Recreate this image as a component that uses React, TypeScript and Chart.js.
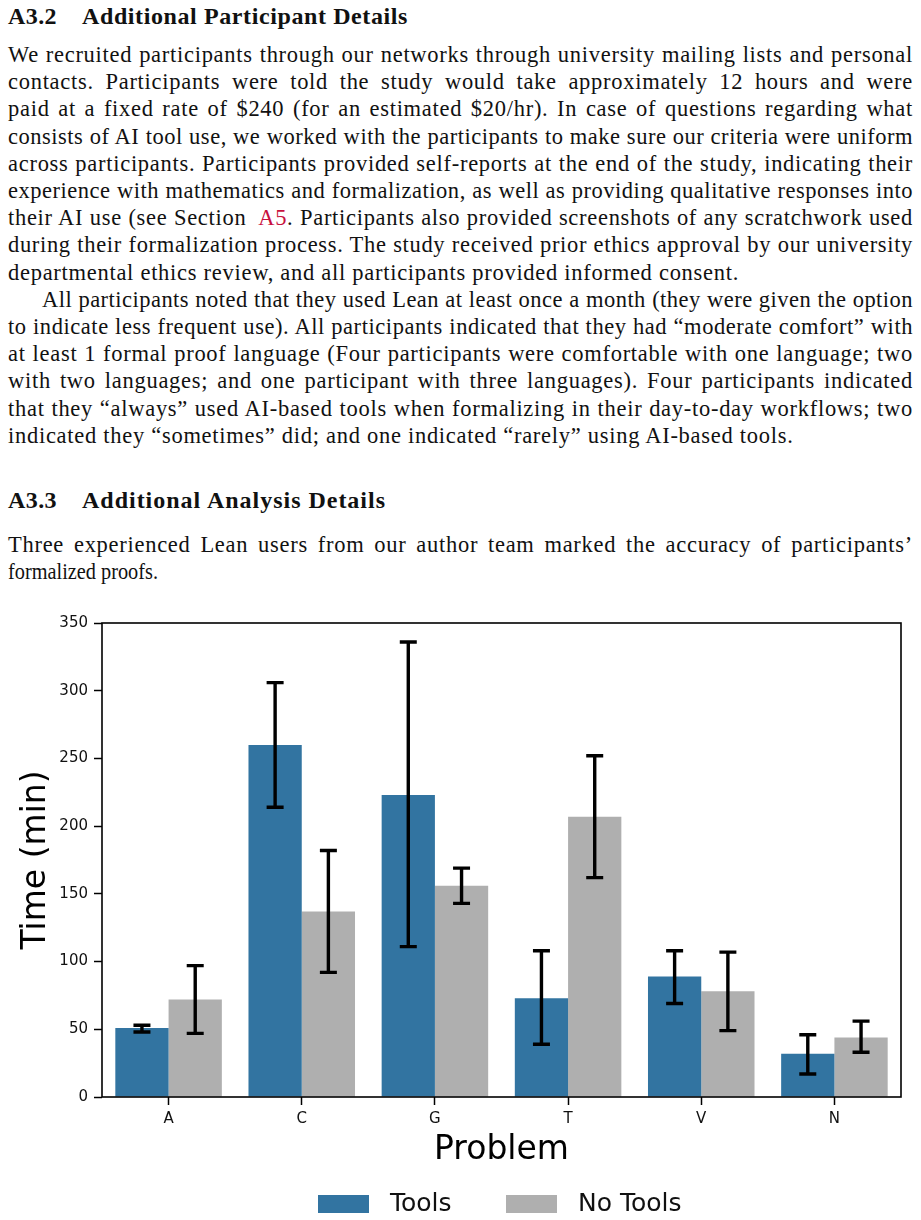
import React, { useEffect, useLayoutEffect, useRef } from "react";
import { Chart, registerables } from "chart.js";

Chart.register(...registerables);

// ---------------- data ----------------
const categories = ["A", "C", "G", "T", "V", "N"];
const seriesLabels = ["Tools", "No Tools"];
const toolsMean = [51, 260, 223, 73, 89, 32];
const toolsLow = [48, 214, 111, 39, 69, 17];
const toolsHigh = [53, 306, 336, 108, 108, 46];
const noToolsMean = [72, 137, 156, 207, 78, 44];
const noToolsLow = [47, 92, 143, 162, 49, 33];
const noToolsHigh = [97, 182, 169, 252, 107, 56];
const yTickValues = [0, 50, 100, 150, 200, 250, 300, 350];
const xTitle = "Problem";
const yTitle = "Time (min)";

const BLUE = "#3274a1";
const GRAY = "#afafaf";
const SANS = "'DejaVu Sans', sans-serif";
const SERIF = "'Liberation Serif', 'Times New Roman', serif";

const errorBarPlugin = {
  id: "errorBars",
  afterDatasetsDraw(chart: any) {
    const { ctx } = chart;
    const y = chart.scales.y;
    const ranges = [
      [toolsLow, toolsHigh],
      [noToolsLow, noToolsHigh],
    ];
    ctx.save();
    ctx.strokeStyle = "#000";
    ctx.lineWidth = 3.4;
    ctx.lineCap = "butt";
    chart.data.datasets.forEach((_ds: any, di: number) => {
      const meta = chart.getDatasetMeta(di);
      meta.data.forEach((bar: any, i: number) => {
        const x = bar.x;
        const yl = y.getPixelForValue(ranges[di][0][i]);
        const yh = y.getPixelForValue(ranges[di][1][i]);
        const hw = 8.5;
        ctx.beginPath();
        ctx.moveTo(x, yl);
        ctx.lineTo(x, yh);
        ctx.moveTo(x - hw, yl);
        ctx.lineTo(x + hw, yl);
        ctx.moveTo(x - hw, yh);
        ctx.lineTo(x + hw, yh);
        ctx.stroke();
      });
    });
    ctx.restore();
  },
};

const framePlugin = {
  id: "frame",
  afterDatasetsDraw(chart: any) {
    const { ctx, chartArea } = chart;
    ctx.save();
    ctx.strokeStyle = "#000";
    ctx.lineWidth = 1.6;
    ctx.strokeRect(
      chartArea.left,
      chartArea.top,
      chartArea.right - chartArea.left,
      chartArea.bottom - chartArea.top
    );
    ctx.restore();
  },
};

const legendPlugin = {
  id: "bottomLegend",
  afterDraw(chart: any) {
    const { ctx } = chart;
    const items = [
      { box: 318, text: 390 },
      { box: 506, text: 578 },
    ];
    const top = 595;
    ctx.save();
    ctx.font = `25px ${SANS}`;
    ctx.textBaseline = "middle";
    chart.data.datasets.forEach((ds: any, i: number) => {
      const it = items[i];
      ctx.fillStyle = ds.backgroundColor;
      ctx.fillRect(it.box, top, 51, 18);
      ctx.fillStyle = "#111";
      ctx.fillText(ds.label, it.text, top + 9);
    });
    ctx.restore();
  },
};

function BarChart() {
  const ref = useRef<HTMLCanvasElement | null>(null);
  useEffect(() => {
    if (!ref.current) return;
    const chart = new Chart(ref.current, {
      type: "bar",
      data: {
        labels: categories,
        datasets: [
          {
            label: seriesLabels[0],
            data: toolsMean,
            backgroundColor: BLUE,
            borderWidth: 0,
            categoryPercentage: 0.8,
            barPercentage: 1.0,
          },
          {
            label: seriesLabels[1],
            data: noToolsMean,
            backgroundColor: GRAY,
            borderWidth: 0,
            categoryPercentage: 0.8,
            barPercentage: 1.0,
          },
        ],
      },
      options: {
        animation: false,
        responsive: false,
        devicePixelRatio: 1,
        layout: { padding: { top: 23, right: 20, left: 0, bottom: 0 } },
        plugins: {
          legend: { display: false },
          tooltip: { enabled: false },
        },
        scales: {
          x: {
            offset: true,
            grid: {
              display: true,
              drawOnChartArea: false,
              drawTicks: true,
              tickLength: 8,
              tickWidth: 1.5,
              tickColor: "#000",
              offset: false,
            },
            border: { display: false },
            ticks: {
              color: "#111",
              font: { family: SANS, size: 15 },
              padding: 5,
            },
            title: {
              display: true,
              text: xTitle,
              color: "#000",
              font: { family: SANS, size: 33 },
              padding: { top: 0, bottom: 50 },
            },
            afterFit: (s: any) => {
              s.height = 123;
            },
          },
          y: {
            min: 0,
            max: 350,
            afterBuildTicks: (s: any) => {
              s.ticks = yTickValues.map((v) => ({ value: v }));
            },
            grid: {
              display: true,
              drawOnChartArea: false,
              drawTicks: true,
              tickLength: 8,
              tickWidth: 1.5,
              tickColor: "#000",
            },
            border: { display: false },
            ticks: {
              color: "#111",
              font: { family: SANS, size: 15 },
              padding: 6,
            },
            title: {
              display: true,
              text: yTitle,
              color: "#000",
              font: { family: SANS, size: 33 },
              padding: { top: 17, bottom: 0 },
            },
            afterFit: (s: any) => {
              s.width = 102;
            },
          },
        },
      },
      plugins: [errorBarPlugin, framePlugin, legendPlugin],
    });
    return () => chart.destroy();
  }, []);
  return (
    <canvas
      ref={ref}
      width={921}
      height={620}
      style={{ position: "absolute", left: 0, top: 600, width: 921, height: 620 }}
    />
  );
}

// ---------------- text ----------------
type LineSpec = {
  content: React.ReactNode;
  last?: boolean;
  indent?: boolean;
  fitWidth?: number;
};

const LINK = "#c8103e";

const para1: LineSpec[] = [
  { content: "We recruited participants through our networks through university mailing lists and personal" },
  { content: "contacts.  Participants were told the study would take approximately 12 hours and were" },
  { content: "paid at a fixed rate of $240 (for an estimated $20/hr).  In case of questions regarding what" },
  { content: "consists of AI tool use, we worked with the participants to make sure our criteria were uniform" },
  { content: "across participants. Participants provided self-reports at the end of the study, indicating their" },
  { content: "experience with mathematics and formalization, as well as providing qualitative responses into" },
  {
    content: (
      <>
        their AI use (see Section&nbsp; <span style={{ color: LINK }}>A5</span>. Participants also provided screenshots of any scratchwork used
      </>
    ),
  },
  { content: "during their formalization process. The study received prior ethics approval by our university" },
  { content: "departmental ethics review, and all participants provided informed consent.", last: true },
  { content: "All participants noted that they used Lean at least once a month (they were given the option", indent: true },
  { content: "to indicate less frequent use). All participants indicated that they had \u201cmoderate comfort\u201d with" },
  { content: "at least 1 formal proof language (Four participants were comfortable with one language; two" },
  { content: "with two languages; and one participant with three languages). Four participants indicated" },
  { content: "that they \u201calways\u201d used AI-based tools when formalizing in their day-to-day workflows; two" },
  { content: "indicated they \u201csometimes\u201d did; and one indicated \u201crarely\u201d using AI-based tools.", last: true },
];

const para3: LineSpec[] = [
  { content: "Three experienced Lean users from our author team marked the accuracy of participants\u2019" },
  { content: "formalized proofs.", last: true, fitWidth: 150 },
];

function useFit(
  ref: React.RefObject<HTMLDivElement | null>,
  innerRef: React.RefObject<HTMLSpanElement | null>,
  width: number,
  justify: boolean,
  targetLs: number,
  targetWidth?: number,
  squeeze?: number
) {
  useLayoutEffect(() => {
    const fit = () => {
      const el = ref.current;
      const inner = innerRef.current;
      if (!el || !inner) return;
      el.style.letterSpacing = "0px";
      el.style.whiteSpace = "nowrap";
      el.style.textAlign = "left";
      el.style.textAlignLast = "left";
      el.style.transform = "none";
      const w0 = inner.getBoundingClientRect().width;
      const n = (inner.textContent || "").length || 1;
      if (squeeze !== undefined) {
        el.style.transformOrigin = "0 0";
        el.style.transform = `scaleX(${squeeze / w0})`;
        return;
      }
      let ls = targetLs;
      if (targetWidth !== undefined) {
        ls = (targetWidth - w0) / n;
      } else if (justify) {
        ls = Math.min(targetLs, (width - w0 - 3) / n);
      }
      el.style.letterSpacing = `${ls}px`;
      if (justify) {
        el.style.whiteSpace = "normal";
        el.style.textAlign = "justify";
        el.style.textAlignLast = "justify";
      }
    };
    fit();
    if ((document as any).fonts && (document as any).fonts.ready) {
      (document as any).fonts.ready.then(fit);
    }
  }, []);
}

const BODY_SIZE = 22.5;
const BODY_LS = 0.72;

function TextLine({ spec, baseline }: { spec: LineSpec; baseline: number }) {
  const ref = useRef<HTMLDivElement | null>(null);
  const innerRef = useRef<HTMLSpanElement | null>(null);
  const left = spec.indent ? 42 : 8;
  const width = spec.indent ? 871 : 905;
  useFit(ref, innerRef, width, !spec.last, BODY_LS, undefined, spec.fitWidth);
  return (
    <div
      ref={ref}
      style={{
        position: "absolute",
        left,
        width,
        top: baseline - 21,
        height: 27,
        lineHeight: "27px",
        fontFamily: SERIF,
        fontSize: BODY_SIZE,
        color: "#111",
        whiteSpace: "nowrap",
      }}
    >
      <span ref={innerRef}>{spec.content}</span>
    </div>
  );
}

function Heading({
  num,
  title,
  baseline,
  titleWidth,
}: {
  num: string;
  title: string;
  baseline: number;
  titleWidth: number;
}) {
  const ref = useRef<HTMLDivElement | null>(null);
  const innerRef = useRef<HTMLSpanElement | null>(null);
  useFit(ref, innerRef, titleWidth, false, 0, titleWidth);
  return (
    <div
      style={{
        position: "absolute",
        left: 8,
        top: baseline - 22,
        height: 28,
        lineHeight: "28px",
        fontFamily: SERIF,
        fontWeight: "bold",
        fontSize: 24,
        color: "#111",
        whiteSpace: "nowrap",
      }}
    >
      <span style={{ position: "absolute", left: 0, top: 0, letterSpacing: "0.4px" }}>{num}</span>
      <div ref={ref} style={{ position: "absolute", left: 74, top: 0 }}>
        <span ref={innerRef}>{title}</span>
      </div>
    </div>
  );
}

export default function App() {
  const start = 62;
  const step = 27.2;
  return (
    <div
      style={{
        position: "absolute",
        left: 0,
        top: 0,
        width: 921,
        height: 1220,
        background: "#fff",
        overflow: "hidden",
      }}
    >
      <Heading num="A3.2" title="Additional Participant Details" baseline={24} titleWidth={326} />
      {para1.map((l, i) => (
        <TextLine key={i} spec={l} baseline={start + i * step} />
      ))}
      <Heading num="A3.3" title="Additional Analysis Details" baseline={508} titleWidth={304} />
      {para3.map((l, i) => (
        <TextLine key={"p3" + i} spec={l} baseline={552 + i * step} />
      ))}
      <BarChart />
    </div>
  );
}
